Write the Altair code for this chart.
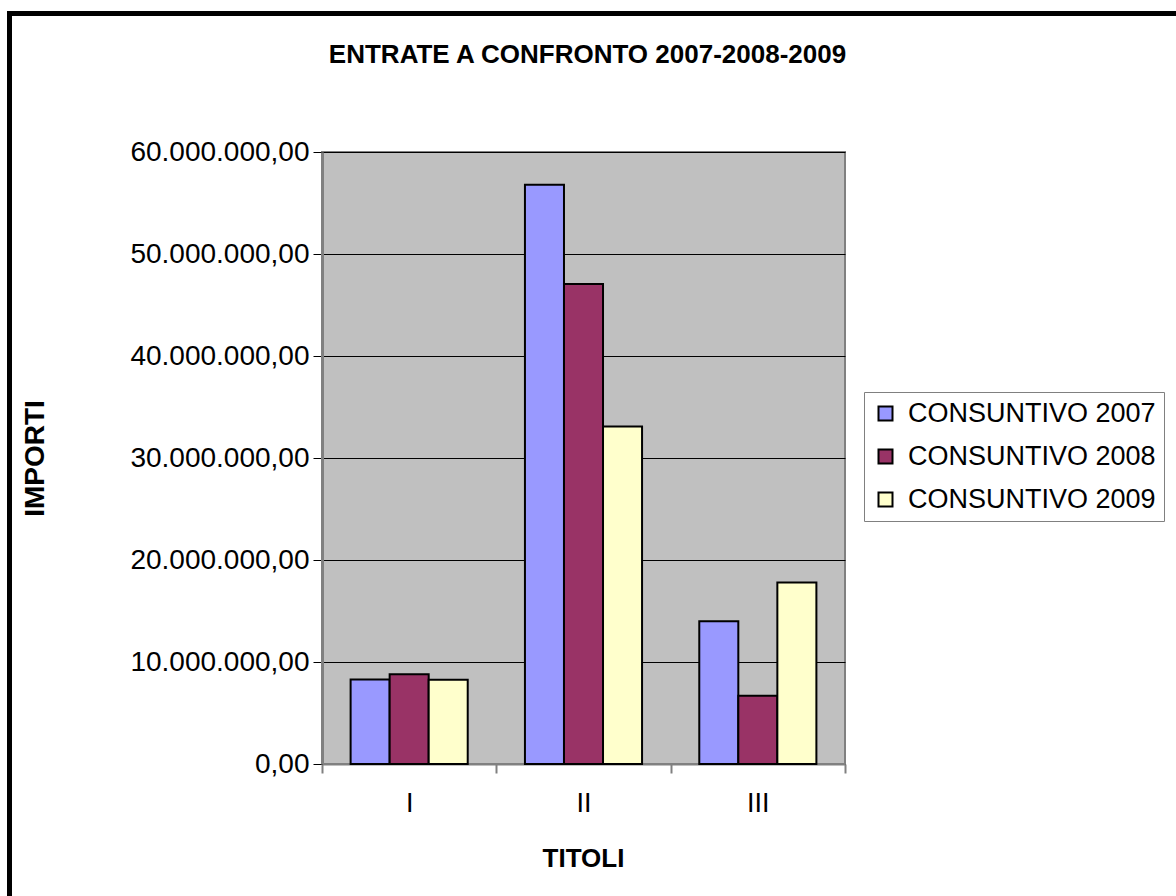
import altair as alt
import pandas as pd

categories = ["I", "II", "III"]
series = ["CONSUNTIVO 2007", "CONSUNTIVO 2008", "CONSUNTIVO 2009"]
values_2007 = [8280000, 56800000, 14000000]
values_2008 = [8810000, 47050000, 6690000]
values_2009 = [8270000, 33100000, 17800000]
colors = ["#9999FF", "#993366", "#FFFFCC"]
y_ticks = [0, 10000000, 20000000, 30000000, 40000000, 50000000, 60000000]

rows = []
for s, vals in zip(series, [values_2007, values_2008, values_2009]):
    for c, v in zip(categories, vals):
        rows.append({"titolo": c, "serie": s, "importo": v})
df = pd.DataFrame(rows)

FONT = "Liberation Sans"

bars = alt.Chart(df).mark_bar(stroke="black", strokeWidth=2).encode(
    x=alt.X(
        "titolo:N",
        sort=categories,
        scale=alt.Scale(paddingInner=0, paddingOuter=0),
        axis=alt.Axis(
            title="TITOLI",
            titleFont=FONT,
            titleFontSize=26,
            titleFontWeight="bold",
            titleColor="black",
            titleX=261,
            titleY=94,
            titleBaseline="middle",
            titleAlign="center",
            labelAngle=0,
            labelFont=FONT,
            labelFontSize=27,
            labelColor="black",
            labelPadding=17,
            tickBand="extent",
            tickSize=9,
            tickColor="#808080",
            tickWidth=2,
            domainColor="#808080",
            domainWidth=2,
            grid=False,
        ),
    ),
    xOffset=alt.XOffset(
        "serie:N",
        sort=series,
        scale=alt.Scale(paddingOuter=0.733, paddingInner=0),
    ),
    y=alt.Y(
        "importo:Q",
        scale=alt.Scale(domain=[0, 60000000], nice=False),
        axis=alt.Axis(
            title="IMPORTI",
            titleFont=FONT,
            titleFontSize=28,
            titleFontWeight="bold",
            titleColor="black",
            titleAngle=-90,
            titleX=-287,
            titleY=306,
            titleAlign="center",
            titleBaseline="middle",
            values=y_ticks,
            labelExpr="datum.value == 0 ? '0,00' : format(datum.value / 1000000, 'd') + '.000.000,00'",
            labelFont=FONT,
            labelFontSize=28,
            labelColor="black",
            labelPadding=4,
            labelLimit=400,
            tickSize=9,
            tickColor="black",
            domainColor="#808080",
            domainWidth=3,
            grid=True,
            gridColor="black",
            gridWidth=1,
        ),
    ),
    color=alt.Color(
        "serie:N",
        sort=series,
        scale=alt.Scale(domain=series, range=colors),
        legend=alt.Legend(
            title=None,
            orient="none",
            legendX=542,
            legendY=240,
            symbolType="square",
            symbolSize=196,
            symbolStrokeColor="black",
            symbolStrokeWidth=2,
            symbolOpacity=1,
            labelFont=FONT,
            labelFontSize=27,
            labelColor="black",
            labelOffset=9,
            labelLimit=500,
            rowPadding=15,
            padding=8,
            strokeColor="#808080",
            fillColor="white",
        ),
    ),
)

border = alt.Chart(alt.Data(values=[{"k": 1}])).mark_rect(
    fillOpacity=0, stroke="black", strokeWidth=5
).encode(
    x=alt.value(-312.5),
    y=alt.value(-138.5),
    x2=alt.value(900),
    y2=alt.value(800),
)

chart = alt.layer(bars, border).properties(
    width=523,
    height=612,
    padding={"left": 322, "top": 152, "right": 331, "bottom": 132},
    autosize=alt.AutoSizeParams(type="none"),
    background="white",
    title=alt.TitleParams(
        text="ENTRATE A CONFRONTO 2007-2008-2009",
        font=FONT,
        fontSize=26,
        fontWeight="bold",
        color="black",
        anchor="middle",
        offset=0,
        dx=4,
        dy=57,
    ),
).configure_view(
    fill="#C0C0C0",
    stroke="#808080",
    strokeWidth=2,
)

chart.save("out.html", embed_options={"renderer": "svg", "actions": False})
